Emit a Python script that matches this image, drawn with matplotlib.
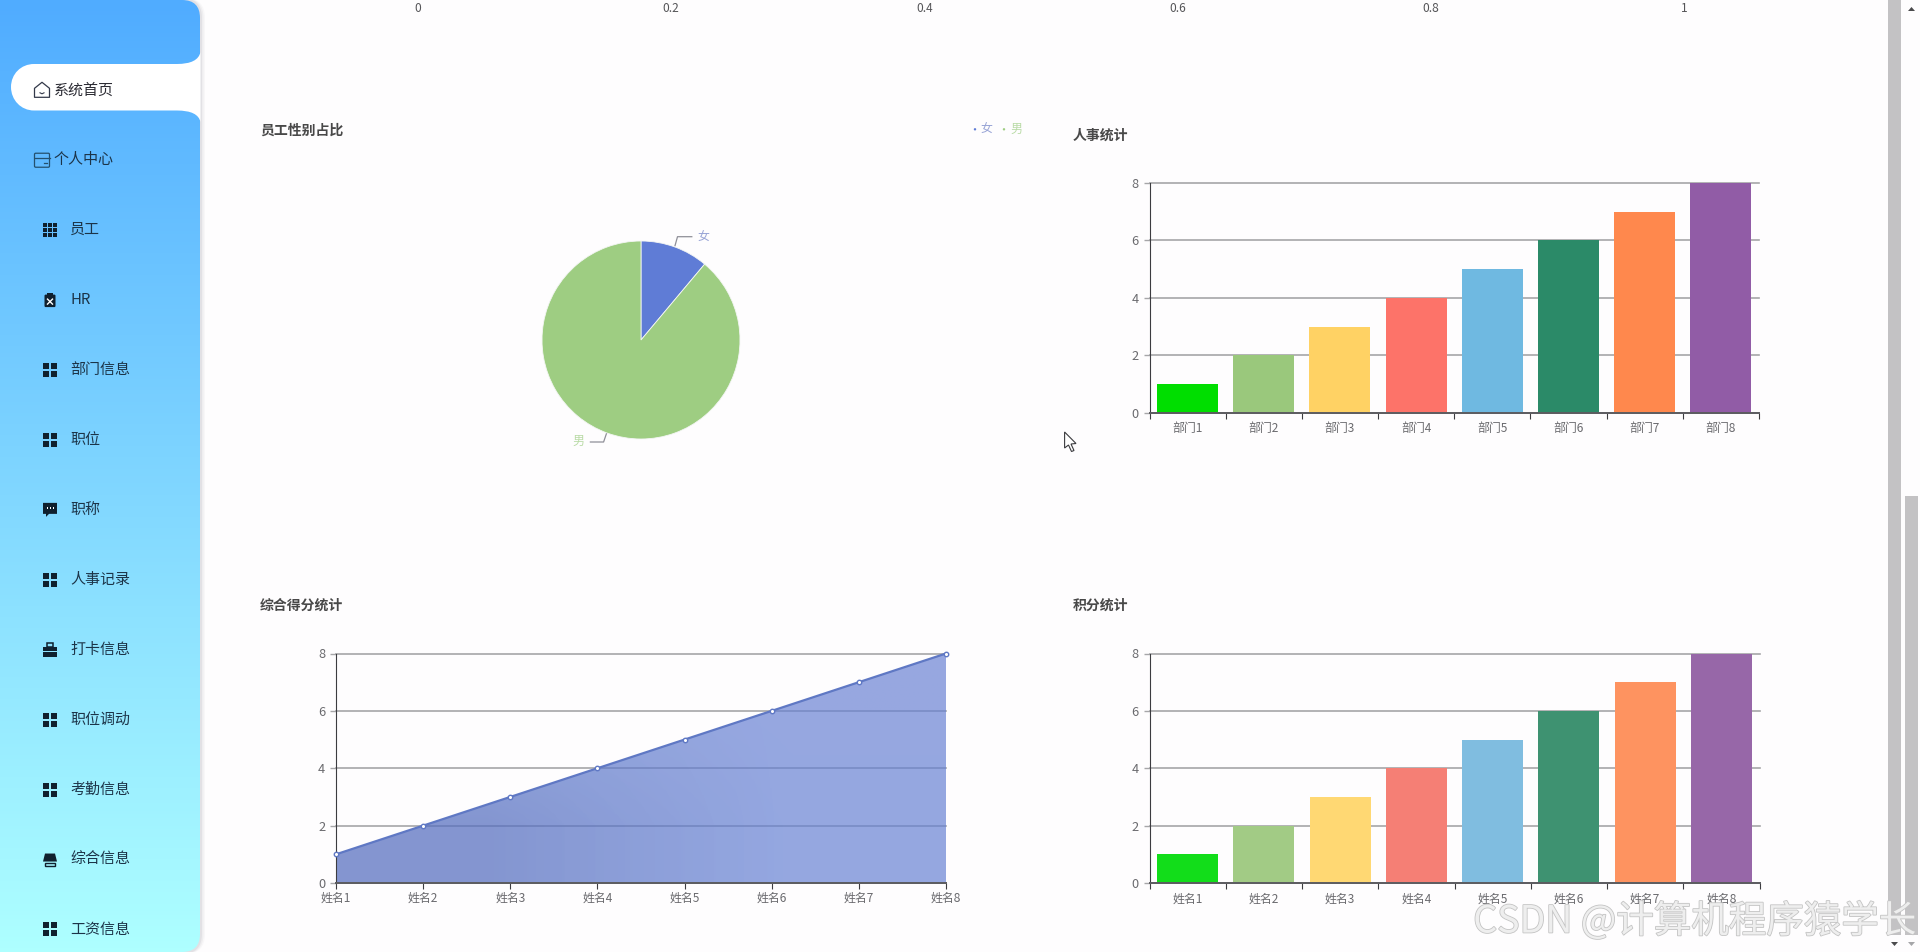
import numpy as np
import matplotlib
matplotlib.use('Agg')
import matplotlib.pyplot as plt
import matplotlib.patheffects as pe
from matplotlib.patches import Circle, FancyBboxPatch, PathPatch, Polygon, Rectangle
from matplotlib.path import Path

plt.rcParams['font.family'] = ['Noto Sans CJK SC', 'DejaVu Sans']

W, H = 1920, 952

# Data
menu_items = ['系统首页', '个人中心', '员工', 'HR', '部门信息', '职位', '职称', '人事记录',
              '打卡信息', '职位调动', '考勤信息', '综合信息', '工资信息']
menu_icons = ['house', 'wallet', 'grid9', 'clip', 'grid4', 'grid4', 'chat', 'grid4',
              'case', 'grid4', 'grid4', 'box', 'grid4']

top_ticks = [0, 0.2, 0.4, 0.6, 0.8, 1]

gender_names = ['女', '男']
gender_values = [1, 8]
gender_colors = ['#5f7cd6', '#9ecd82']
gender_text_colors = ['#98a4d6', '#b9dba6']

dept_names = ['部门1', '部门2', '部门3', '部门4', '部门5', '部门6', '部门7', '部门8']
dept_values = [1, 2, 3, 4, 5, 6, 7, 8]
dept_colors = ['#00de00', '#9ac87c', '#ffd264', '#fd7369', '#6fb9e1', '#2b8a68', '#ff884d', '#915ca6']

score_names = ['姓名1', '姓名2', '姓名3', '姓名4', '姓名5', '姓名6', '姓名7', '姓名8']
score_values = [1, 2, 3, 4, 5, 6, 7, 8]

point_names = ['姓名1', '姓名2', '姓名3', '姓名4', '姓名5', '姓名6', '姓名7', '姓名8']
point_values = [1, 2, 3, 4, 5, 6, 7, 8]
point_colors = ['#12dd1a', '#a2cb85', '#ffd873', '#f57f75', '#80bde0', '#3e9271', '#fe9360', '#9767a8']

y_ticks = [0, 2, 4, 6, 8]

GRID = '#a6a6a8'
AXIS = '#3c3c40'
LABEL = '#6a6a6e'
PAGE = '#fefdfe'
ICON = '#10202e'


def px_axes(left, top, right, bottom, **kw):
    # axes placed in screen pixels
    return fig.add_axes([left / W, 1 - bottom / H, (right - left) / W, (bottom - top) / H], **kw)


def style_axes(ax):
    ax.patch.set_alpha(0)
    for s in ['top', 'right']:
        ax.spines[s].set_visible(False)
    ax.spines['left'].set_color(AXIS)
    ax.spines['left'].set_linewidth(0.8)
    ax.spines['bottom'].set_color('#5c5c60')
    ax.spines['bottom'].set_linewidth(1.4)
    ax.set_ylim(0, 8)
    ax.set_yticks(y_ticks)
    ax.tick_params(axis='y', length=4.3, width=1, color=GRID, labelsize=9.2, labelcolor=LABEL, pad=3.5)
    ax.tick_params(axis='x', which='major', length=4.3, width=0.8, color=AXIS, labelsize=8.6,
                   labelcolor=LABEL, pad=2.5)
    ax.grid(axis='y', color=GRID, linewidth=1.2, zorder=0)
    ax.set_axisbelow(True)
    for line in ax.get_ygridlines():
        line.set_clip_on(False)


def bar_chart(ax, names, values, colors):
    x = np.arange(len(names)) + 0.5
    ax.bar(x, values, width=0.8, color=colors, zorder=2)
    ax.set_xlim(0, len(names))
    style_axes(ax)
    ax.set_xticks(np.arange(len(names) + 1))
    ax.set_xticklabels([])
    ax.set_xticks(x, minor=True)
    ax.set_xticklabels(names, minor=True)
    ax.tick_params(axis='x', which='minor', length=0, labelsize=8.6, labelcolor=LABEL, pad=7)


def draw_icon(ax, kind, cx, cy):
    n_patches = len(ax.patches)
    n_lines = len(ax.lines)
    fc = ICON
    if kind == 'grid4':
        for dx in (-7, 1):
            for dy in (-7, 1):
                ax.add_patch(Rectangle((cx + dx, cy + dy), 6, 6, fc=fc, ec='none'))
    elif kind == 'grid9':
        for dx in (-7, -2.2, 2.6):
            for dy in (-7, -2.2, 2.6):
                ax.add_patch(Rectangle((cx + dx, cy + dy), 4, 4, fc=fc, ec='none'))
    elif kind == 'clip':
        ax.add_patch(FancyBboxPatch((cx - 5.5, cy - 5.5), 11, 12.5, boxstyle='round,pad=0,rounding_size=1.2', fc=fc, ec='none'))
        ax.add_patch(Rectangle((cx - 3, cy - 7.5), 6, 3, fc=fc, ec='none'))
        ax.plot([cx - 2.5, cx + 2.5], [cy - 1, cy + 4], color='white', lw=1)
        ax.plot([cx - 2.5, cx + 2.5], [cy + 4, cy - 1], color='white', lw=1)
    elif kind == 'chat':
        ax.add_patch(Polygon([(cx - 7, cy - 7), (cx + 7, cy - 7), (cx + 7, cy + 4), (cx - 1, cy + 4),
                              (cx - 4, cy + 7), (cx - 4, cy + 4), (cx - 7, cy + 4)], fc=fc, ec='none'))
        for dx in (-3.5, -0.5, 2.5):
            ax.add_patch(Rectangle((cx + dx, cy - 2.5), 1.6, 1.6, fc='white', ec='none'))
    elif kind == 'case':
        ax.add_patch(Rectangle((cx - 7, cy - 3), 14, 4.4, fc=fc, ec='none'))
        ax.add_patch(Rectangle((cx - 7, cy + 2.4), 14, 4.4, fc=fc, ec='none'))
        ax.add_patch(Rectangle((cx - 3, cy - 6.5), 6, 3.5, fc='none', ec=fc, lw=1.1))
    elif kind == 'box':
        ax.add_patch(Polygon([(cx - 5, cy - 6), (cx + 5, cy - 6), (cx + 7, cy + 2), (cx - 7, cy + 2)], fc=fc, ec='none'))
        ax.add_patch(Rectangle((cx - 5, cy + 3), 10, 3.5, fc='none', ec=fc, lw=1))
    elif kind == 'house':
        ax.add_patch(Polygon([(cx - 7.5, cy - 2), (cx, cy - 8), (cx + 7.5, cy - 2), (cx + 7.5, cy + 7), (cx - 7.5, cy + 7)],
                             fc='none', ec='#33394a', lw=0.9, joinstyle='round'))
        ax.plot([cx - 2, cx, cx + 2], [cy + 2.5, cy + 3.5, cy + 2.5], color='#33394a', lw=0.8)
    elif kind == 'wallet':
        ax.add_patch(FancyBboxPatch((cx - 7.5, cy - 7), 15, 14, boxstyle='round,pad=0,rounding_size=1.2', fc='none', ec='#24506e', lw=0.9))
        ax.plot([cx - 7.5, cx + 7.5], [cy - 2.5, cy - 2.5], color='#24506e', lw=0.9)
        ax.plot([cx + 1.5, cx + 4.5], [cy + 2.5, cy + 2.5], color='#24506e', lw=0.9)
    for a in list(ax.patches)[n_patches:]:
        a.set_zorder(3)
    for a in list(ax.lines)[n_lines:]:
        a.set_zorder(3.5)


fig = plt.figure(figsize=(W / 100, H / 100), dpi=100, facecolor=PAGE)

# page layer in pixel coordinates
bg = fig.add_axes([0, 0, 1, 1])
bg.set_xlim(0, W)
bg.set_ylim(H, 0)
bg.axis('off')

# sidebar: soft shadow, gradient, white active tab
for grow, alpha in [(5, 0.05), (3.5, 0.08), (2, 0.12)]:
    bg.add_patch(FancyBboxPatch((-30, -2), 230 + grow, H + 4, boxstyle='round,pad=0,rounding_size=20',
                                fc='#8a8a9a', ec='none', alpha=alpha, zorder=0.5))
top_col = np.array([80, 172, 255]) / 255
bot_col = np.array([174, 255, 255]) / 255
ramp = np.linspace(0, 1, 256)[:, None, None]
grad = top_col[None, None, :] * (1 - ramp) + bot_col[None, None, :] * ramp
im = bg.imshow(grad, extent=(0, 200, H, 0), aspect='auto', zorder=1)
clip = FancyBboxPatch((-30, 0), 230, H, boxstyle='round,pad=0,rounding_size=18', fc='none', ec='none',
                      transform=bg.transData)
bg.add_patch(clip)
im.set_clip_path(clip)
bg.set_xlim(0, W)
bg.set_ylim(H, 0)

tab_verts = [(200.5, 52), (198, 64), (177, 64), (34, 64), (21, 64), (11, 74), (11, 87), (11, 100), (21, 110.5), (34, 110.5),
             (177, 110.5), (198, 110.5), (200.5, 122), (200.5, 52)]
tab_codes = [Path.MOVETO, Path.CURVE3, Path.CURVE3, Path.LINETO, Path.CURVE4, Path.CURVE4, Path.CURVE4,
             Path.CURVE4, Path.CURVE4, Path.CURVE4, Path.LINETO, Path.CURVE3, Path.CURVE3, Path.CLOSEPOLY]
bg.add_patch(PathPatch(Path(tab_verts, tab_codes), fc='white', ec='none', zorder=2))

for i, (name, icon) in enumerate(zip(menu_items, menu_icons)):
    y = 90.3 + 69.93 * i
    if i < 2:
        draw_icon(bg, icon, 42, y)
        tx = 54
    else:
        draw_icon(bg, icon, 50, y)
        tx = 70
    bg.text(tx, y, name, fontsize=10.8, color='#1c3448' if i else '#2c2c34', va='center', ha='left', zorder=4)

# chart titles
for tx, ty, title in [(260, 131, '员工性别占比'), (1073, 136, '人事统计'), (260, 606, '综合得分统计'), (1073, 606, '积分统计')]:
    bg.text(tx, ty, title, fontsize=10, fontweight='bold', color='#484848', va='center', ha='left')

# leftover axis of the chart above, only its labels are still on screen
top_ax = px_axes(418, -20, 1684, 0)
top_ax.set_xlim(0, 1)
top_ax.set_xticks(top_ticks)
top_ax.set_xticklabels([f'{t:g}' for t in top_ticks])
top_ax.set_yticks([])
top_ax.tick_params(axis='x', length=0, labelsize=8.6, labelcolor='#555558', pad=1.5)
for s in top_ax.spines.values():
    s.set_visible(False)
top_ax.patch.set_alpha(0)

# pie
R = 99
pie_ax = px_axes(641 - R, 340 - R, 641 + R, 340 + R)
pie_ax.pie(gender_values, colors=gender_colors, startangle=90, counterclock=False, radius=1,
           wedgeprops={'linewidth': 0.6, 'edgecolor': '#f4f6f4'})
pie_ax.set_xlim(-1, 1)
pie_ax.set_ylim(-1, 1)

bg.plot([675, 677.5, 691.8], [245.7, 236.7, 236.7], color='#8f8f98', lw=0.9)
bg.plot([607, 603.6, 590.4], [432, 442, 442], color='#8f8f98', lw=0.9)
bg.text(703, 237, gender_names[0], fontsize=8.6, color=gender_text_colors[0], ha='center', va='center')
bg.text(578.6, 441, gender_names[1], fontsize=8.6, color=gender_text_colors[1], ha='center', va='center')

# pie legend
for dot_x, text_x, name, col, tcol in zip([975, 1004], [986.8, 1016], gender_names, gender_colors, gender_text_colors):
    bg.add_patch(Circle((dot_x, 129.3), 1.2, fc=col, ec='none'))
    bg.text(text_x, 129.3, name, fontsize=8.6, color=tcol, ha='center', va='center')

# top right bars
ax1 = px_axes(1149.5, 183, 1759, 412.6)
bar_chart(ax1, dept_names, dept_values, dept_colors)

# bottom left area, fill slightly darker towards the lower left
ax2 = px_axes(336, 653.5, 946, 883)
x2 = np.arange(len(score_names))
style_axes(ax2)
ax2.set_xlim(0, len(score_names) - 1)
ax2.set_xticks(x2)
ax2.set_xticklabels(score_names)
ax2.tick_params(axis='x', which='major', pad=2.2)
ax2.grid(axis='y', color=GRID, linewidth=1.2, zorder=1)
for line in ax2.get_ygridlines():
    line.set_clip_on(False)
area = ax2.fill_between(x2, score_values, 0, color='none', lw=0)
shade = np.array([[[0.38, 0.49, 0.80, 0.70], [0.40, 0.50, 0.83, 0.68]],
                  [[0.33, 0.43, 0.75, 0.72], [0.39, 0.50, 0.83, 0.68]]])
area_im = ax2.imshow(shade, extent=(0, len(score_names) - 1, 0, 8), origin='upper', aspect='auto',
                     interpolation='bilinear', zorder=2)
area_im.set_clip_path(area.get_paths()[0], ax2.transData)
ax2.set_xlim(0, len(score_names) - 1)
ax2.set_ylim(0, 8)
ax2.plot(x2, score_values, color='#5f78c4', lw=1.6, marker='o', ms=3.2, mfc='white', mec='#5f78c4', mew=1,
         clip_on=False, zorder=5)

# bottom right bars
ax3 = px_axes(1149.6, 653.5, 1759.5, 883)
bar_chart(ax3, point_names, point_values, point_colors)

# scrollbars
bg.add_patch(Rectangle((1888, 0), 13, 935, fc='#c3c2c4', ec='none'))
bg.add_patch(Rectangle((1905, 496), 13, 439, fc='#c3c2c4', ec='none'))
bg.add_patch(Polygon([(1908, 11), (1915, 11), (1911.5, 7)], fc='#4a4a4c', ec='none'))
bg.add_patch(Polygon([(1891, 942), (1898, 942), (1894.5, 946)], fc='#4a4a4c', ec='none'))
bg.add_patch(Polygon([(1908, 942), (1915, 942), (1911.5, 946)], fc='#a5a5a8', ec='none'))

# mouse cursor
bg.add_patch(Polygon([(1064.6, 432), (1064.6, 448), (1068.5, 445), (1071.5, 451.5), (1074, 450.5), (1071, 444), (1076, 443.5)],
                     fc='white', ec='#3a3a3e', lw=0.8, zorder=8))

# watermark on top of everything
wm = fig.text(1916 / W, 1 - 922 / H, 'CSDN @计算机程序猿学长', fontsize=27, color='#eeeeee', ha='right', va='center', zorder=20)
wm.set_path_effects([pe.withStroke(linewidth=1.2, foreground='#c4c4c4')])

fig.savefig('out.png', dpi=100, facecolor=PAGE)
